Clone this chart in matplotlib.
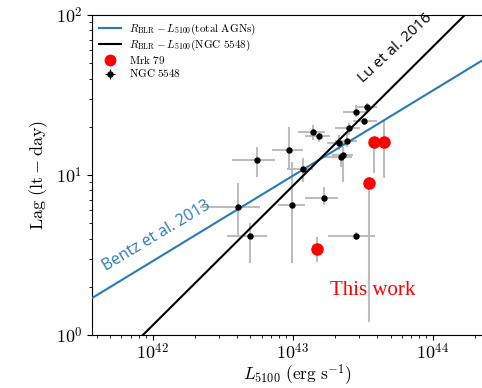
import numpy as np
import matplotlib
matplotlib.use('Agg')
import matplotlib.pyplot as plt
from matplotlib import ticker
from matplotlib.lines import Line2D

plt.rcParams['mathtext.fontset'] = 'cm'
plt.rcParams['font.family'] = ['DejaVu Serif']

# NGC 5548 (literature) : L5100 in 1e43 erg/s, lag in days, asymmetric errors
ngc_L = [3.39, 2.83, 3.22, 2.53, 1.39, 1.53, 2.46, 2.14, 2.29, 2.21,
         0.944, 0.558, 1.18, 1.67, 0.99, 0.408, 0.497, 2.83]
ngc_L_lo = [0.52, 0.54, 0.51, 0.52, 0.30, 0.30, 0.45, 0.38, 0.38, 0.56,
            0.23, 0.19, 0.27, 0.44, 0.20, 0.19, 0.156, 1.04]
ngc_L_hi = [0.60, 0.63, 0.79, 0.51, 0.32, 0.32, 0.43, 0.43, 0.42, 0.45,
            0.25, 0.19, 0.22, 0.44, 0.24, 0.18, 0.16, 1.05]
ngc_lag = [26.5, 24.8, 21.7, 19.6, 18.6, 17.5, 16.4, 15.8, 13.4, 13.0,
           14.3, 12.4, 10.9, 7.15, 6.47, 6.28, 4.16, 4.16]
ngc_lag_lo = [1.7, 1.8, 1.2, 1.8, 2.0, 1.4, 1.4, 1.5, 4.4, 1.8,
              3.6, 2.7, 1.9, 0.66, 3.65, 2.18, 1.34, 0.24]
ngc_lag_hi = [1.7, 2.6, 1.0, 1.5, 1.9, 1.1, 2.2, 2.0, 1.6, 0.7,
              5.6, 2.6, 1.9, 1.26, 5.6, 2.63, 0.85, 0.24]

# Mrk 79 (this work)
mrk_L = [3.78, 4.50, 3.52, 1.49]
mrk_lag = [16.0, 16.0, 8.95, 3.46]
mrk_lag_lo = [5.7, 6.4, 7.74, 0.60]
mrk_lag_hi = [1.3, 6.1, 0.77, 0.64]

# R-L relations: log R = K + alpha * (log L - 43)
bentz_K, bentz_alpha = 0.994, 0.533   # total AGNs (Bentz et al. 2013)
lu_K, lu_alpha = 0.93, 0.87           # NGC 5548 (Lu et al. 2016)

XLIM = (10**41.568, 10**44.5)
YLIM = (1, 100)
BLUE = '#2a7ab9'

fig = plt.figure(figsize=(4.82, 3.88), dpi=100)
ax = fig.add_axes([0.191, 0.1366, 0.852, 0.825])
ax.spines['right'].set_visible(False)

lx = np.linspace(np.log10(XLIM[0]), np.log10(XLIM[1]), 200)
ax.plot(10**lx, 10**(bentz_K + bentz_alpha * (lx - 43)), color=BLUE, lw=1.5, zorder=3)
ax.plot(10**lx, 10**(lu_K + lu_alpha * (lx - 43)), color='k', lw=1.5, zorder=3)

L = np.array(ngc_L) * 1e43
ax.errorbar(L, ngc_lag,
            xerr=[np.array(ngc_L_lo) * 1e43, np.array(ngc_L_hi) * 1e43],
            yerr=[ngc_lag_lo, ngc_lag_hi],
            fmt='none', ecolor='#bdbdbd', elinewidth=1.5, zorder=1)
ax.plot(L, ngc_lag, 'o', color='k', ms=3.6, zorder=4)

ML = np.array(mrk_L) * 1e43
ax.errorbar(ML, mrk_lag, yerr=[mrk_lag_lo, mrk_lag_hi],
            fmt='none', ecolor='#bdbdbd', elinewidth=1.5, zorder=1)
ax.plot(ML, mrk_lag, 'o', color='red', ms=8, zorder=5)

ax.set_xscale('log')
ax.set_yscale('log')
ax.set_xlim(*XLIM)
ax.set_ylim(*YLIM)

fmt = ticker.FuncFormatter(lambda v, p: r'$10^{%d}$' % round(np.log10(v)))
ax.xaxis.set_major_formatter(fmt)
ax.yaxis.set_major_formatter(fmt)
ax.xaxis.set_minor_formatter(ticker.NullFormatter())
ax.yaxis.set_minor_formatter(ticker.NullFormatter())
ax.tick_params(labelsize=13)
ax.tick_params(axis='x', pad=2)

ax.set_xlabel(r'$L_{5100}\ (\rm erg\ s^{-1})$', fontsize=12.5, labelpad=0)
ax.set_ylabel(r'$\rm Lag\ (lt-day)$', fontsize=13)

ax.text(10**43.73, 10**1.79, 'Lu et al. 2016', family='Open Sans', fontsize=11,
        rotation=43, ha='center', va='center')
ax.text(10**42.03, 10**0.62, 'Bentz et al. 2013', family='Open Sans', fontsize=11.5,
        color=BLUE, rotation=31, ha='center', va='center')
ax.text(10**43.27, 10**0.28, 'This work', family='Liberation Serif', fontsize=15,
        color='red', ha='left', va='center')

handles = [
    Line2D([], [], color=BLUE, lw=1.5),
    Line2D([], [], color='k', lw=1.5),
    Line2D([], [], marker='o', ls='none', color='red', ms=7.5),
    (Line2D([], [], marker='+', ls='none', color='k', ms=7, mew=0.8),
     Line2D([], [], marker='o', ls='none', color='k', ms=3.6)),
]
labels = [r'$R_{\rm BLR}-L_{5100}{\rm (total\ AGNs)}$',
          r'$R_{\rm BLR}-L_{5100}{\rm (NGC\ 5548)}$',
          r'$\rm Mrk\ 79$', r'$\rm NGC\ 5548$']
ax.legend(handles, labels, loc='upper left', frameon=False, fontsize=8,
          handlelength=2.0, handletextpad=0.7, labelspacing=0.1,
          borderaxespad=0.2)

fig.savefig('out.png', dpi=100)
